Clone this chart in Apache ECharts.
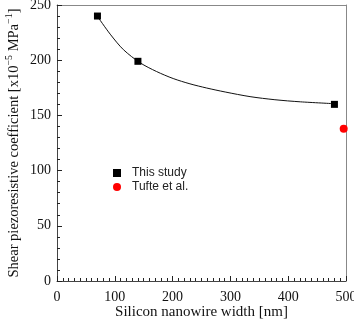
<!DOCTYPE html>
<html><head><meta charset="utf-8">
<script src="https://cdn.jsdelivr.net/npm/echarts@6/dist/echarts.min.js"></script>
<style>html,body{margin:0;padding:0;background:#fff}#c{width:354px;height:322px}</style>
</head><body><div id="c"></div>
<script>
const studyX = [70, 140, 480];
const studyY = [240, 199, 160];
const tufteX = [496];
const tufteY = [138];
const fitX = [70, 92, 115, 144, 172, 201, 230, 259, 291, 334, 377, 421, 480];
const fitY = [239.7, 223.6, 209.5, 197.6, 189.8, 183.4, 178.6, 174.8, 171.2, 167, 164.2, 162.3, 160.6];
const xTicks = [0, 100, 200, 300, 400, 500];
const yTicks = [0, 50, 100, 150, 200, 250];

const chart = echarts.init(document.getElementById('c'), null, {renderer: 'canvas'});
const serif = 'Liberation Serif';
chart.setOption({
  animation: false,
  backgroundColor: '#fff',
  grid: {left: 57, right: 8, top: 5, bottom: 41, containLabel: false, outerBoundsMode: 'none'},
  legend: {
    left: 108, top: 162, orient: 'vertical', itemGap: 2, itemWidth: 8, itemHeight: 8,
    textStyle: {fontFamily: 'Liberation Sans', fontSize: 12, color: '#222', padding: [0, 0, 0, 6]},
    data: [{name: 'This study', icon: 'rect'}, {name: 'Tufte et al.', icon: 'circle'}]
  },
  xAxis: [{
    type: 'value', min: xTicks[0], max: xTicks[xTicks.length - 1], interval: 100,
    name: 'Silicon nanowire width [nm]', nameLocation: 'middle', nameGap: 24, nameMoveOverlap: false,
    nameTextStyle: {fontFamily: serif, fontSize: 15, color: '#111'},
    axisLine: {lineStyle: {color: '#444', width: 1}},
    axisTick: {inside: true, length: 5, lineStyle: {color: '#222'}},
    minorTick: {show: true, splitNumber: 10, length: 3, lineStyle: {color: '#222'}},
    axisLabel: {fontFamily: serif, fontSize: 14, color: '#111', margin: 9},
    splitLine: {show: false}
  }, {
    type: 'value', position: 'top', min: 0, max: 500,
    axisLine: {show: true, onZero: false, lineStyle: {color: '#888'}},
    axisTick: {show: false}, axisLabel: {show: false}, splitLine: {show: false}
  }],
  yAxis: [{
    type: 'value', min: yTicks[0], max: yTicks[yTicks.length - 1], interval: 50,
    name: '{a|Shear piezoresistive coefficient [x10}{s|−5}{a| MPa}{s|−1}{a|]}',
    nameLocation: 'middle', nameGap: 35, nameRotate: 90, nameMoveOverlap: false,
    nameTextStyle: {
      rich: {
        a: {fontFamily: serif, fontSize: 14.5, color: '#111', lineHeight: 18, verticalAlign: 'bottom'},
        s: {fontFamily: serif, fontSize: 10, color: '#111', lineHeight: 18, verticalAlign: 'top'}
      }
    },
    axisLine: {show: true, lineStyle: {color: '#444', width: 1}},
    axisTick: {inside: true, length: 5, lineStyle: {color: '#222'}},
    minorTick: {show: true, splitNumber: 5, length: 3, lineStyle: {color: '#222'}},
    axisLabel: {fontFamily: serif, fontSize: 14, color: '#111', margin: 6},
    splitLine: {show: false}
  }, {
    type: 'value', position: 'right', min: 0, max: 250,
    axisLine: {show: true, onZero: false, lineStyle: {color: '#888'}},
    axisTick: {show: false}, axisLabel: {show: false}, splitLine: {show: false}
  }],
  series: [{
    type: 'line', name: 'fit', data: fitX.map((x, i) => [x, fitY[i]]),
    smooth: 0.3, showSymbol: false, symbol: 'none', lineStyle: {color: '#111', width: 1},
    z: 2, silent: true
  }, {
    type: 'scatter', name: 'This study', data: studyX.map((x, i) => [x, studyY[i]]),
    symbol: 'rect', symbolSize: 7, itemStyle: {color: '#000', opacity: 1}, z: 3
  }, {
    type: 'scatter', name: 'Tufte et al.', data: tufteX.map((x, i) => [x, tufteY[i]]),
    symbol: 'circle', symbolSize: 8, itemStyle: {color: '#f00', opacity: 1}, z: 3
  }]
});
</script></body></html>
